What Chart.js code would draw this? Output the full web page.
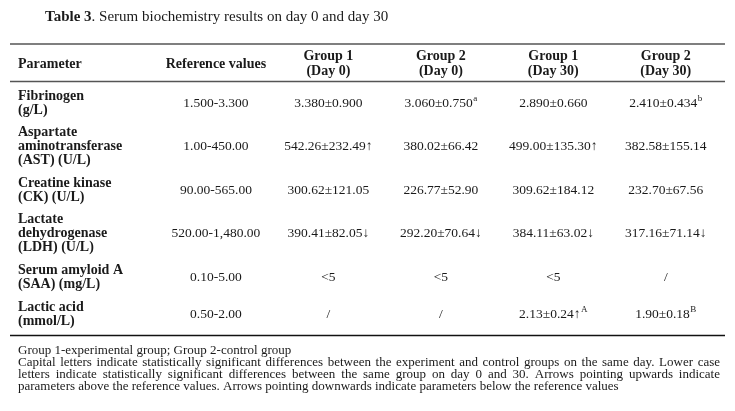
<!DOCTYPE html>
<html>
<head>
<meta charset="utf-8">
<script src="https://cdn.jsdelivr.net/npm/chart.js@4.4.1/dist/chart.umd.min.js"></script>
<style>
  html, body { margin: 0; padding: 0; background: #fff; }
  #wrap { width: 735px; height: 411px; position: relative; }
</style>
</head>
<body>
<div id="wrap"><canvas id="serumTable"></canvas></div>
<script>
// table content
const tableTitleBold = "Table 3";
const tableTitleRest = ". Serum biochemistry results on day 0 and day 30";
const parameterHeader = "Parameter";
const columnHeaders = [
  ["Reference values"],
  ["Group 1", "(Day 0)"],
  ["Group 2", "(Day 0)"],
  ["Group 1", "(Day 30)"],
  ["Group 2", "(Day 30)"],
];
const parameters = [
  ["Fibrinogen", "(g/L)"],
  ["Aspartate", "aminotransferase", "(AST) (U/L)"],
  ["Creatine kinase", "(CK) (U/L)"],
  ["Lactate", "dehydrogenase", "(LDH) (U/L)"],
  ["Serum amyloid A", "(SAA) (mg/L)"],
  ["Lactic acid", "(mmol/L)"],
];
// "^" marks a superscript letter
const referenceValues = ["1.500-3.300", "1.00-450.00", "90.00-565.00", "520.00-1,480.00", "0.10-5.00", "0.50-2.00"];
const group1Day0 = ["3.380±0.900", "542.26±232.49↑", "300.62±121.05", "390.41±82.05↓", "<5", "/"];
const group2Day0 = ["3.060±0.750^a", "380.02±66.42", "226.77±52.90", "292.20±70.64↓", "<5", "/"];
const group1Day30 = ["2.890±0.660", "499.00±135.30↑", "309.62±184.12", "384.11±63.02↓", "<5", "2.13±0.24↑^A"];
const group2Day30 = ["2.410±0.434^b", "382.58±155.14", "232.70±67.56", "317.16±71.14↓", "/", "1.90±0.18^B"];
const footnotes = [
  "Group 1-experimental group; Group 2-control group",
  "Capital letters indicate statistically significant differences between the experiment and control groups on the same day. Lower case",
  "letters indicate statistically significant differences between the same group on day 0 and 30. Arrows pointing upwards indicate",
  "parameters above the reference values. Arrows pointing downwards indicate parameters below the reference values",
];

// layout: rows measured in text-line units
const ROW_GAP = 1.61;
const X_MIN = -1.76;
const FONT = "'Liberation Serif', 'Times New Roman', serif";
const BODY_FONT = "13.5px " + FONT;
const BOLD_FONT = "bold 14px " + FONT;
const SUP_FONT = "9px " + FONT;

const rowStart = [];
let acc = 0;
parameters.forEach(lines => { rowStart.push(acc); acc += lines.length - 1 + ROW_GAP; });
const rowCenter = parameters.map((lines, i) => rowStart[i] + (lines.length - 1) / 2);
const yMax = rowStart[rowStart.length - 1] + parameters[parameters.length - 1].length - 1;

const valueColumns = [referenceValues, group1Day0, group2Day0, group1Day30, group2Day30];

const datasets = [{
  label: parameterHeader,
  data: parameters.map((lines, r) => ({ x: X_MIN, y: rowCenter[r], lines: lines })),
  pointRadius: 0,
}].concat(valueColumns.map((vals, c) => ({
  label: columnHeaders[c].join(" "),
  data: vals.map((v, r) => ({ x: c, y: rowCenter[r], text: v })),
  pointRadius: 0,
})));

function drawCell(ctx, text, x, y) {
  const parts = text.split("^");
  ctx.font = BODY_FONT;
  const w1 = ctx.measureText(parts[0]).width;
  let w2 = 0;
  if (parts[1]) { ctx.font = SUP_FONT; w2 = ctx.measureText(parts[1]).width + 0.5; }
  const left = x - (w1 + w2) / 2;
  ctx.textAlign = "left";
  ctx.font = BODY_FONT;
  ctx.fillText(parts[0], left, y);
  if (parts[1]) { ctx.font = SUP_FONT; ctx.fillText(parts[1], left + w1 + 0.5, y - 4); }
}

function drawJustified(ctx, text, x, y, width) {
  const words = text.split(" ");
  const total = words.reduce((s, w) => s + ctx.measureText(w).width, 0);
  const space = (width - total) / (words.length - 1);
  let cx = x;
  words.forEach(w => { ctx.fillText(w, cx, y); cx += ctx.measureText(w).width + space; });
}

const tablePlugin = {
  id: "tablePlugin",
  afterDatasetsDraw(chart) {
    const ctx = chart.ctx;
    const xs = chart.scales.x;
    const area = chart.chartArea;
    const ruleL = area.left - 8, ruleR = area.right + 3;
    ctx.save();
    ctx.fillStyle = "#1a1a1a";
    ctx.textBaseline = "middle";

    // title
    ctx.textAlign = "left";
    ctx.font = "bold 15px " + FONT;
    ctx.fillText(tableTitleBold, 45, 17);
    const tw = ctx.measureText(tableTitleBold).width;
    ctx.font = "15px " + FONT;
    ctx.fillText(tableTitleRest, 45 + tw, 17);

    // rules
    ctx.strokeStyle = "#555";
    ctx.lineWidth = 1.3;
    [44, 81.5].forEach(y => { ctx.beginPath(); ctx.moveTo(ruleL, y); ctx.lineTo(ruleR, y); ctx.stroke(); });
    ctx.strokeStyle = "#111";
    ctx.lineWidth = 1.6;
    ctx.beginPath(); ctx.moveTo(ruleL, 335.5); ctx.lineTo(ruleR, 335.5); ctx.stroke();

    // header
    ctx.font = BOLD_FONT;
    ctx.textAlign = "left";
    ctx.fillText(parameterHeader, area.left, 64);
    ctx.textAlign = "center";
    columnHeaders.forEach((lines, c) => {
      const x = xs.getPixelForValue(c);
      if (lines.length === 1) ctx.fillText(lines[0], x, 64);
      else lines.forEach((t, k) => ctx.fillText(t, x, 56.5 + k * 15));
    });

    // cells
    const ys = chart.scales.y;
    chart.data.datasets.forEach((ds, di) => {
      const meta = chart.getDatasetMeta(di);
      meta.data.forEach((el, i) => {
        const raw = ds.data[i];
        if (raw.lines) {
          ctx.font = BOLD_FONT;
          ctx.textAlign = "left";
          const n = raw.lines.length;
          raw.lines.forEach((t, k) => {
            ctx.fillText(t, el.x, ys.getPixelForValue(raw.y + k - (n - 1) / 2));
          });
        } else {
          drawCell(ctx, raw.text, el.x, el.y);
        }
      });
    });

    // footnotes
    ctx.font = "13px " + FONT;
    ctx.textAlign = "left";
    footnotes.forEach((t, i) => {
      const y = 350.5 + i * 11.9;
      if (i === 1 || i === 2) drawJustified(ctx, t, area.left, y, 720 - area.left);
      else ctx.fillText(t, area.left, y);
    });
    ctx.restore();
  }
};

new Chart(document.getElementById("serumTable").getContext("2d"), {
  type: "scatter",
  data: { datasets: datasets },
  options: {
    responsive: true,
    maintainAspectRatio: false,
    animation: false,
    events: [],
    layout: { padding: { left: 18, right: 13, top: 96, bottom: 90 } },
    plugins: { legend: { display: false }, tooltip: { enabled: false } },
    scales: {
      x: { type: "linear", min: X_MIN, max: 4.5, display: false },
      y: { type: "linear", min: 0, max: yMax, reverse: true, display: false },
    },
  },
  plugins: [tablePlugin],
});
</script>
</body>
</html>
